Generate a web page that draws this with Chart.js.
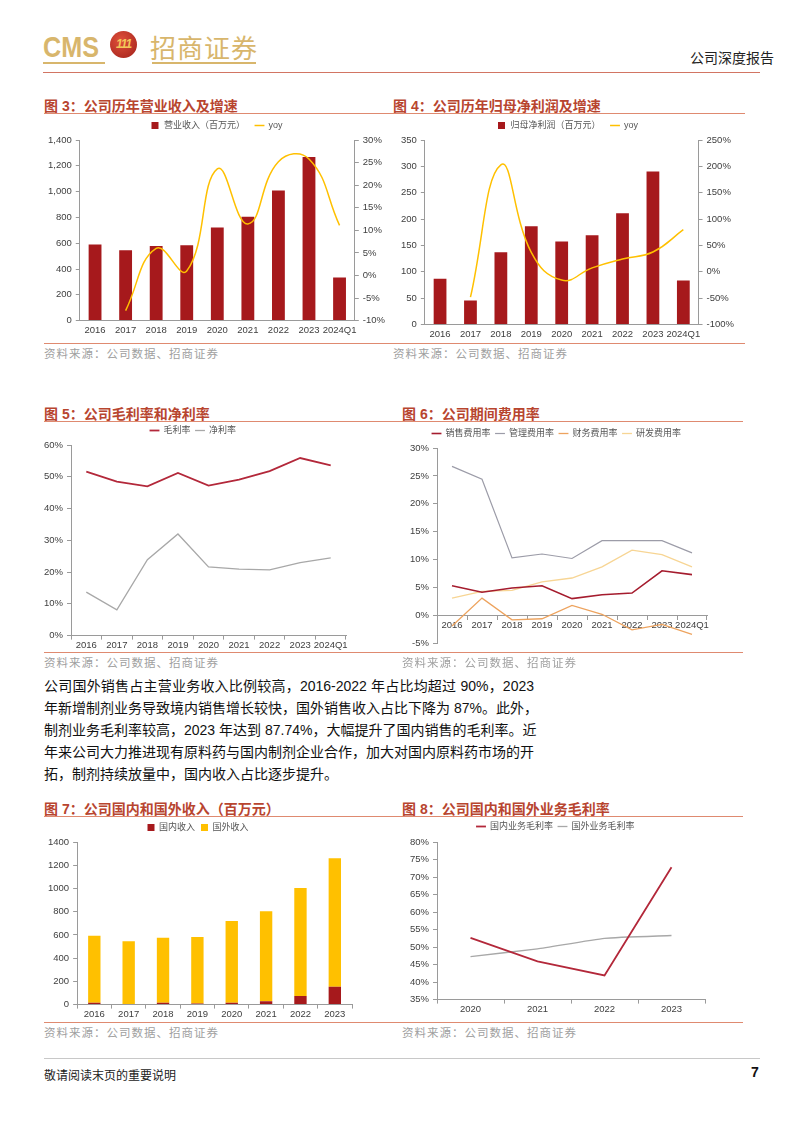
<!DOCTYPE html>
<html>
<head>
<meta charset="utf-8">
<script src="https://cdn.jsdelivr.net/npm/chart.js"></script>
<style>
  body { margin: 0; background: #fff; width: 802px; height: 1133px; position: relative; overflow: hidden;
         font-family: "Liberation Sans", "Noto Sans CJK SC", sans-serif; }
  .abs { position: absolute; }
  .title { position: absolute; font-size: 14px; font-weight: bold; color: #b8452f; white-space: nowrap;
           font-family: "Liberation Sans", "Noto Sans CJK SC", sans-serif; }
  .rule { position: absolute; height: 0; border-top: 1.5px solid #df8a70; }
  .src { position: absolute; font-size: 11.5px; color: #a0a0a0; font-family: "Noto Sans CJK SC", sans-serif; letter-spacing: 1px; }
  canvas { position: absolute; }
  .para { position: absolute; left: 44px; top: 675px; width: 490px; font-size: 14px; line-height: 22px;
          color: #111; font-family: "Liberation Sans", "Noto Sans CJK SC", sans-serif; }
  .para span { display: block; text-align: justify; text-align-last: justify; white-space: nowrap; }
  .para span.last { text-align-last: left; }
</style>
</head>
<body>
<!-- header -->
<div class="abs" style="left:43px;top:30px;font-size:30px;font-weight:bold;color:#d8b66c;transform:scaleX(0.84);transform-origin:0 0;">CMS</div>
<div class="abs" style="left:43px;top:62px;width:62px;border-top:2px solid #d8b66c;"></div>
<div class="abs" style="left:110px;top:31px;width:27px;height:27px;border-radius:50%;background:radial-gradient(circle at 40% 35%,#e0503a,#a0201a);"></div>
<div class="abs" style="left:110px;top:37px;width:27px;text-align:center;font-size:12px;font-weight:bold;color:#f3c75a;font-style:italic;letter-spacing:-1px;">111</div>
<div class="abs" style="left:150px;top:28px;font-size:26px;color:#d8b66c;font-family:'Noto Sans CJK SC';letter-spacing:1px;">招商证券</div>
<div class="abs" style="left:152px;top:62px;width:104px;border-top:2px solid #d8b66c;"></div>
<div class="abs" style="left:690px;top:47px;font-size:14px;color:#222;font-family:'Noto Sans CJK SC';">公司深度报告</div>
<div class="abs" style="left:43px;top:72px;width:717px;border-top:1px solid #d27563;"></div>

<!-- fig 3 / 4 -->
<div class="title" style="left:44px;top:95px;">图 3：公司历年营业收入及增速</div>
<div class="rule" style="left:44px;top:113px;width:349px;"></div>
<canvas id="c3" width="345" height="225" style="left:44px;top:111px;"></canvas>
<div class="rule" style="left:44px;top:343px;width:349px;"></div>
<div class="src" style="left:44px;top:345px;">资料来源：公司数据、招商证券</div>

<div class="title" style="left:393px;top:95px;">图 4：公司历年归母净利润及增速</div>
<div class="rule" style="left:393px;top:113px;width:352px;"></div>
<canvas id="c4" width="345" height="229" style="left:393px;top:111px;"></canvas>
<div class="rule" style="left:393px;top:343px;width:352px;"></div>
<div class="src" style="left:393px;top:345px;">资料来源：公司数据、招商证券</div>

<!-- fig 5 / 6 -->
<div class="title" style="left:44px;top:403px;">图 5：公司毛利率和净利率</div>
<div class="rule" style="left:44px;top:421px;width:358px;"></div>
<canvas id="c5" width="334" height="230" style="left:40px;top:421px;"></canvas>
<div class="rule" style="left:44px;top:652px;width:358px;"></div>
<div class="src" style="left:44px;top:654px;">资料来源：公司数据、招商证券</div>

<div class="title" style="left:402px;top:403px;">图 6：公司期间费用率</div>
<div class="rule" style="left:402px;top:421px;width:341px;"></div>
<canvas id="c6" width="341" height="229" style="left:402px;top:424px;"></canvas>
<div class="rule" style="left:402px;top:652px;width:341px;"></div>
<div class="src" style="left:402px;top:654px;">资料来源：公司数据、招商证券</div>

<div class="para">
<span>公司国外销售占主营业务收入比例较高，2016-2022 年占比均超过 90%，2023</span>
<span>年新增制剂业务导致境内销售增长较快，国外销售收入占比下降为 87%。此外，</span>
<span>制剂业务毛利率较高，2023 年达到 87.74%，大幅提升了国内销售的毛利率。近</span>
<span>年来公司大力推进现有原料药与国内制剂企业合作，加大对国内原料药市场的开</span>
<span class="last">拓，制剂持续放量中，国内收入占比逐步提升。</span>
</div>

<!-- fig 7 / 8 -->
<div class="title" style="left:44px;top:798px;">图 7：公司国内和国外收入（百万元）</div>
<div class="rule" style="left:44px;top:816px;width:358px;"></div>
<canvas id="c7" width="330" height="203" style="left:44px;top:817px;"></canvas>
<div class="rule" style="left:44px;top:1022px;width:358px;"></div>
<div class="src" style="left:44px;top:1024px;">资料来源：公司数据、招商证券</div>

<div class="title" style="left:402px;top:798px;">图 8：公司国内和国外业务毛利率</div>
<div class="rule" style="left:402px;top:816px;width:341px;"></div>
<canvas id="c8" width="341" height="198" style="left:402px;top:817px;"></canvas>
<div class="rule" style="left:402px;top:1022px;width:341px;"></div>
<div class="src" style="left:402px;top:1024px;">资料来源：公司数据、招商证券</div>

<!-- footer -->
<div class="abs" style="left:44px;top:1058px;width:716px;border-top:1px solid #c8c8c8;"></div>
<div class="abs" style="left:44px;top:1066px;font-size:12px;color:#222;font-family:'Noto Sans CJK SC';">敬请阅读末页的重要说明</div>
<div class="abs" style="left:751px;top:1064px;font-size:14px;font-weight:bold;color:#111;">7</div>

<script>
const years = ['2016', '2017', '2018', '2019', '2020', '2021', '2022', '2023', '2024Q1'];
const years8 = ['2016', '2017', '2018', '2019', '2020', '2021', '2022', '2023'];
const years4 = ['2020', '2021', '2022', '2023'];

// 图3
const revenue = [590, 545, 578, 585, 722, 805, 1008, 1268, 335];
const revenueYoy = [null, -7.8, 6.0, 1.0, 23.6, 11.4, 25.2, 25.8, 11.1];
// 图4
const netProfit = [86.7, 45.6, 137, 186.7, 157.6, 169.6, 211, 290.5, 83.5];
const netProfitYoy = [null, -48, 203, 37, -15.6, 7.6, 24.4, 37.7, 80];
// 图5
const grossMargin = [51.6, 48.5, 47.0, 51.2, 47.2, 49.1, 51.8, 55.9, 53.6];
const netMargin = [13.7, 8.1, 23.9, 32.0, 21.6, 20.9, 20.7, 23.0, 24.5];
// 图6
const sellingRate = [5.3, 4.15, 4.9, 5.3, 3.0, 3.7, 4.0, 8.0, 7.3];
const adminRate = [26.7, 24.4, 10.3, 11.0, 10.2, 13.4, 13.4, 13.4, 11.2];
const financeRate = [-1.9, 3.1, -0.8, -0.6, 1.8, 0.2, -2.6, -1.6, -3.4];
const rdRate = [3.1, 4.3, 4.5, 6.0, 6.7, 8.7, 11.7, 10.9, 8.7];
// 图7
const domesticRev = [15, 6, 15, 9, 17, 29, 73, 154];
const foreignRev = [577, 540, 560, 574, 703, 775, 931, 1106];
// 图8
const domesticGm = [52.6, 45.9, 41.9, 72.8];
const foreignGm = [47.3, 49.5, 52.5, 53.3];

const RED = '#a6191c';
const YELLOW = '#ffc000';
const GRAY = '#a8a8a8';
const AXIS = '#9a9a9a';
const TXT = '#404040';

Chart.defaults.font.family = '"Liberation Sans", "Noto Sans CJK SC", sans-serif';
Chart.defaults.font.size = 9.5;
Chart.defaults.color = TXT;
Chart.defaults.animation = false;

// extra space between legend and plot
function legendGap(gap) {
  return {
    id: 'legendGap',
    beforeInit(chart) {
      const fit = chart.legend.fit;
      chart.legend.fit = function () {
        fit.bind(chart.legend)();
        this.height += gap;
      };
    }
  };
}

function legendOpts(pad, boxW) {
  return {
    position: 'top',
    labels: {
      usePointStyle: true,
      padding: pad,
      boxHeight: 7,
      boxWidth: boxW || 20,
      font: { size: 9 },
      color: '#555',
      sort: (a, b) => a.datasetIndex - b.datasetIndex
    }
  };
}

function yAxis(extra) {
  return Object.assign({
    grid: { display: true, drawOnChartArea: false, drawTicks: true, tickLength: 4, color: AXIS },
    border: { display: true, color: AXIS }
  }, extra);
}

function xAxis(extra, tickMarks) {
  return Object.assign({
    grid: { display: !!tickMarks, drawOnChartArea: false, drawTicks: true, tickLength: 4, color: AXIS, offset: true },
    border: { display: true, color: AXIS },
    offset: true,
    ticks: { padding: 0, color: TXT, maxRotation: 0, autoSkip: false }
  }, extra);
}

function pct(v) { return v + '%'; }

function lineDs(label, data, color, width, tension) {
  return {
    type: 'line', label: label, data: data, borderColor: color, backgroundColor: color,
    borderWidth: width || 1.5, pointRadius: 0, tension: tension || 0, pointStyle: 'line'
  };
}

// 图3
new Chart(document.getElementById('c3'), {
  type: 'bar',
  data: {
    labels: years,
    datasets: [
      { label: '营业收入（百万元）', data: revenue, backgroundColor: RED, yAxisID: 'y',
        barPercentage: 0.42, categoryPercentage: 1, pointStyle: 'rect', order: 2 },
      Object.assign(lineDs('yoy', revenueYoy, YELLOW, 1.5, 0.45), { yAxisID: 'y1', order: 1 })
    ]
  },
  options: {
    responsive: false,
    layout: { padding: { left: 0, right: 0, top: 0, bottom: 0 } },
    plugins: { legend: legendOpts(10), tooltip: { enabled: false } },
    scales: {
      x: xAxis({}),
      y: yAxis({ min: 0, max: 1400, ticks: { stepSize: 200, padding: 4, color: TXT } }),
      y1: yAxis({ position: 'right', min: -10, max: 30, ticks: { stepSize: 5, padding: 4, color: TXT, callback: pct } })
    }
  },
  plugins: [legendGap(0)]
});

// 图4
new Chart(document.getElementById('c4'), {
  type: 'bar',
  data: {
    labels: years,
    datasets: [
      { label: '归母净利润（百万元）', data: netProfit, backgroundColor: RED, yAxisID: 'y',
        barPercentage: 0.42, categoryPercentage: 1, pointStyle: 'rect', order: 2 },
      Object.assign(lineDs('yoy', netProfitYoy, YELLOW, 1.5, 0.45), { yAxisID: 'y1', order: 1 })
    ]
  },
  options: {
    responsive: false,
    layout: { padding: { left: 4, right: 0, top: 0, bottom: 0 } },
    plugins: { legend: legendOpts(10), tooltip: { enabled: false } },
    scales: {
      x: xAxis({}),
      y: yAxis({ min: 0, max: 350, ticks: { stepSize: 50, padding: 4, color: TXT } }),
      y1: yAxis({ position: 'right', min: -100, max: 250, ticks: { stepSize: 50, padding: 4, color: TXT, callback: pct } })
    }
  },
  plugins: [legendGap(0)]
});

// 图5
new Chart(document.getElementById('c5'), {
  type: 'line',
  data: {
    labels: years,
    datasets: [
      lineDs('毛利率', grossMargin, '#b3283a', 1.8),
      lineDs('净利率', netMargin, GRAY, 1.3)
    ]
  },
  options: {
    responsive: false,
    layout: { padding: { left: 0, right: 28, top: 0, bottom: 0 } },
    plugins: { legend: legendOpts(5), tooltip: { enabled: false } },
    scales: {
      x: xAxis({}, true),
      y: yAxis({ min: 0, max: 60, ticks: { stepSize: 10, padding: 4, color: TXT, callback: pct } })
    }
  },
  plugins: [legendGap(0)]
});

// 图6
new Chart(document.getElementById('c6'), {
  type: 'line',
  data: {
    labels: years,
    datasets: [
      lineDs('销售费用率', sellingRate, '#a51c2e', 1.6),
      lineDs('管理费用率', adminRate, '#9c9ca8', 1.2),
      lineDs('财务费用率', financeRate, '#eda35e', 1.3),
      lineDs('研发费用率', rdRate, '#f7d594', 1.3)
    ]
  },
  options: {
    responsive: false,
    layout: { padding: { left: 4, right: 36, top: 0, bottom: 0 } },
    plugins: { legend: legendOpts(5, 16), tooltip: { enabled: false } },
    scales: {
      x: xAxis({ position: { y: 0 } }, true),
      y: yAxis({ min: -5, max: 30, ticks: { stepSize: 5, padding: 4, color: TXT, callback: pct } })
    }
  },
  plugins: [legendGap(0)]
});

// 图7
new Chart(document.getElementById('c7'), {
  type: 'bar',
  data: {
    labels: years8,
    datasets: [
      { label: '国内收入', data: domesticRev, backgroundColor: RED, barPercentage: 0.36, categoryPercentage: 1, pointStyle: 'rect' },
      { label: '国外收入', data: foreignRev, backgroundColor: YELLOW, barPercentage: 0.36, categoryPercentage: 1, pointStyle: 'rect' }
    ]
  },
  options: {
    responsive: false,
    layout: { padding: { left: 0, right: 22, top: 0, bottom: 0 } },
    plugins: { legend: legendOpts(6, 7), tooltip: { enabled: false } },
    scales: {
      x: xAxis({ stacked: true }, true),
      y: yAxis({ stacked: true, min: 0, max: 1400, ticks: { stepSize: 200, padding: 4, color: TXT, callback: v => String(v) } })
    }
  },
  plugins: [legendGap(0)]
});

// 图8
new Chart(document.getElementById('c8'), {
  type: 'line',
  data: {
    labels: years4,
    datasets: [
      lineDs('国内业务毛利率', domesticGm, '#b3283a', 1.8, 0),
      lineDs('国外业务毛利率', foreignGm, GRAY, 1.3, 0.15)
    ]
  },
  options: {
    responsive: false,
    layout: { padding: { left: 4, right: 38, top: 0, bottom: 0 } },
    plugins: { legend: legendOpts(5), tooltip: { enabled: false } },
    scales: {
      x: xAxis({}, true),
      y: yAxis({ min: 35, max: 80, ticks: { stepSize: 5, padding: 4, color: TXT, callback: pct } })
    }
  },
  plugins: [legendGap(1)]
});
</script>
</body>
</html>
